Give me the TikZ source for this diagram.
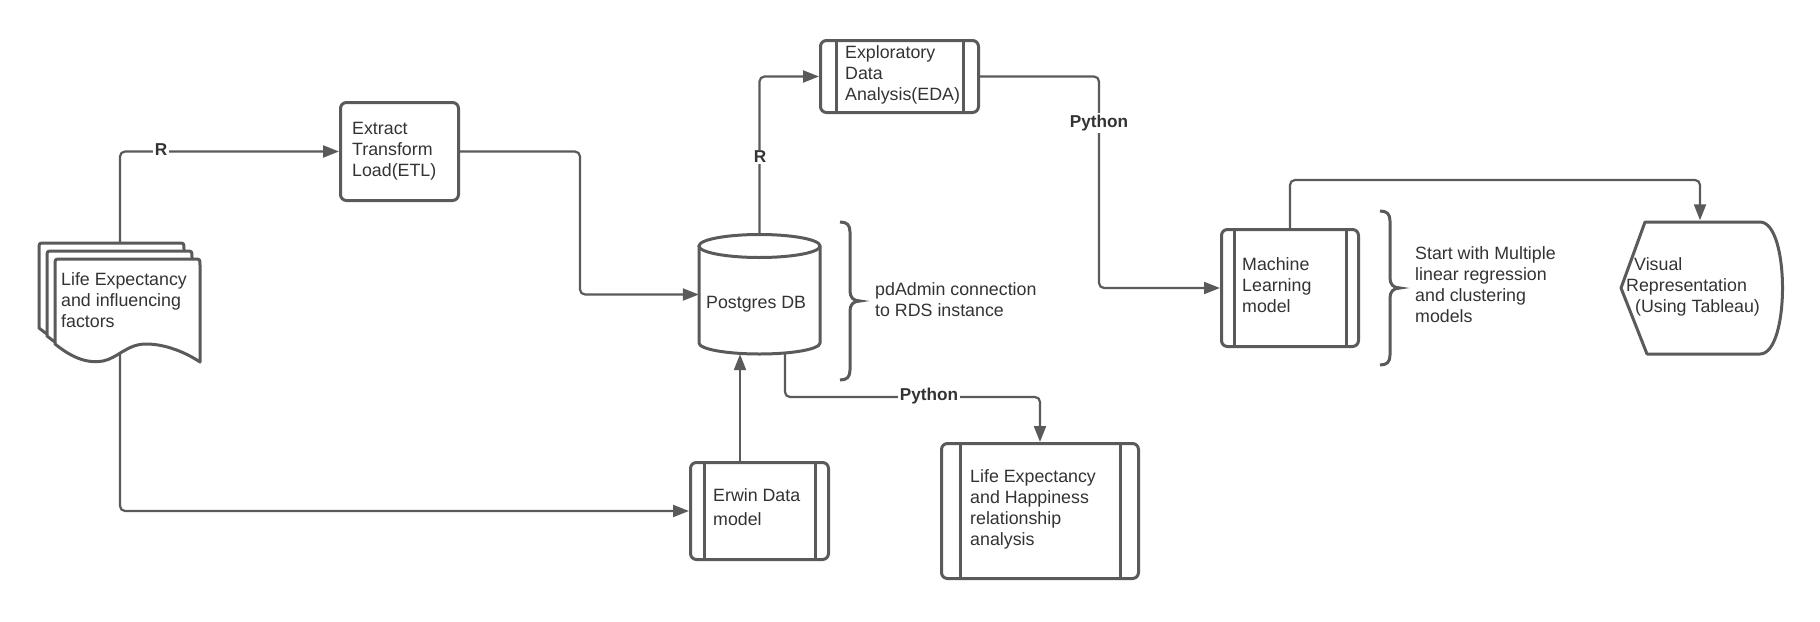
\documentclass[tikz,border=0pt]{standalone}
\usepackage{fontspec}
\setmainfont{Liberation Sans}
\usetikzlibrary{arrows.meta,calc}
\definecolor{lc}{HTML}{5A5A5A}
\definecolor{tc}{HTML}{333333}
\tikzset{
  box/.style={draw=lc, line width=3pt, rounded corners=6pt, fill=white, inner sep=0pt},
  conn/.style={draw=lc, line width=2.2pt, rounded corners=5pt, -{Triangle[length=16pt,width=12pt]}},
  txt/.style={text=tc, font=\fontsize{17.8}{21}\selectfont, align=left, inner sep=0pt, anchor=west},
  lbl/.style={text=tc, font=\fontsize{17.2}{20}\selectfont\bfseries, fill=white, inner sep=1.5pt},
  brace/.style={draw=lc, line width=3pt},
  sub/.style={draw=lc, line width=3pt},
  docsh/.style={draw=lc, line width=3pt, fill=white, line join=round},
  ghost/.style={inner sep=0pt}
}
\begin{document}
\begin{tikzpicture}[x=1pt,y=-1pt]
\useasboundingbox[fill=white] (0,0) rectangle (1820,621);

% document stack
\foreach \s in {16,8,0}{
  \begin{scope}[shift={(-\s,-\s)}]
    \draw[docsh] (55,344) -- (55,265) .. controls (55,259) .. (61,259) -- (194,259)
      .. controls (200,259) .. (200,265) -- (200,362)
      .. controls (185,352) and (165,344) .. (146,344)
      .. controls (127,344) and (118,358) .. (103,361)
      .. controls (85,364) and (70,356) .. (55,344) -- cycle;
  \end{scope}
}
\node[ghost, minimum width=161pt, minimum height=122pt] (doc) at (119.5,301) {};
\coordinate (docTop) at (120,243);
\coordinate (docBot) at (120,354);
\node[txt] (docT) at (61,300) {Life Expectancy\\and influencing\\factors};

% boxes
\node[box, minimum width=118pt, minimum height=98pt] (etl) at (399.5,151.5) {};
\node[txt] (etlT) at (352,151) {Extract\\Transform\\Load(ETL)};

\node[box, minimum width=158pt, minimum height=72pt] (eda) at (899.5,76.5) {};
\draw[sub] ([xshift=17pt]eda.north west) -- ([xshift=17pt]eda.south west);
\draw[sub] ([xshift=-17pt]eda.north east) -- ([xshift=-17pt]eda.south east);
\node[txt] (edaT) at (845,75) {Exploratory\\Data\\Analysis(EDA)};

\node[box, minimum width=138pt, minimum height=97pt] (erwin) at (759.5,511) {};
\draw[sub] ([xshift=15pt]erwin.north west) -- ([xshift=15pt]erwin.south west);
\draw[sub] ([xshift=-15pt]erwin.north east) -- ([xshift=-15pt]erwin.south east);
\node[txt] (erT) at (713,507) {Erwin Data\\[3pt]model};

\node[box, minimum width=197pt, minimum height=135pt] (leh) at (1040,511) {};
\draw[sub] ([xshift=20pt]leh.north west) -- ([xshift=20pt]leh.south west);
\draw[sub] ([xshift=-20pt]leh.north east) -- ([xshift=-20pt]leh.south east);
\node[txt] (lehT) at (970,509) {Life Expectancy\\and Happiness\\relationship\\analysis};

\node[box, minimum width=137pt, minimum height=117pt] (ml) at (1290,288) {};
\draw[sub] ([xshift=14pt]ml.north west) -- ([xshift=14pt]ml.south west);
\draw[sub] ([xshift=-14pt]ml.north east) -- ([xshift=-14pt]ml.south east);
\node[txt] (mlT) at (1242,285) {Machine\\Learning\\model};

% database cylinder
\node[ghost, minimum width=121pt, minimum height=119pt] (db) at (759.5,294.5) {};
\draw[sub, fill=white] (699,246) -- (699,343) arc[start angle=180, end angle=0, x radius=60.5, y radius=11] -- (820,246);
\draw[sub, fill=white] (759.5,246) ellipse[x radius=60.5, y radius=11.5];
\node[txt] (dbT) at (706,304) {Postgres DB};

% display shape
\node[ghost, minimum width=162pt, minimum height=135pt] (vis) at (1700,288) {};
\draw[sub, fill=white, line join=round] (1645,222) -- (1760,222) .. controls (1790,222) and (1790,354) .. (1760,354) -- (1647,354) -- (1621,288) -- cycle;
\node[txt] (visT) at (1626,287) {\hspace*{8pt}Visual\\Representation\\\hspace*{9pt}(Using Tableau)};

% braces and notes
\draw[brace] (840,222) .. controls (847,222) and (850,225) .. (850,232) -- (850,291)
  .. controls (850,297) and (853,301) .. (860,301) .. controls (853,301) and (850,305) .. (850,311)
  -- (850,370) .. controls (850,377) and (847,380) .. (840,380);
\node[txt] (pdT) at (875,300) {pdAdmin connection\\to RDS instance};

\draw[brace] (1380,211) .. controls (1387,211) and (1390,214) .. (1390,221) -- (1390,278)
  .. controls (1390,284) and (1393,288) .. (1400,288) .. controls (1393,288) and (1390,292) .. (1390,298)
  -- (1390,355) .. controls (1390,362) and (1387,365) .. (1380,365);
\node[txt] (stT) at (1415,285) {Start with Multiple\\linear regression\\and clustering\\models};

% connectors
\draw[conn] (docTop) |- (etl.west);
\draw[conn] (etl.east) -- ++(120,0) |- (db.west);
\draw[conn] (db.north) |- (eda.west);
\draw[conn] (eda.east) -- ++(119,0) |- (ml.west);
\coordinate (dbOut) at (785,353);
\draw[conn] (dbOut) -- ++(0,44) -| (leh.north);
\draw[conn] ([xshift=-19.5pt]erwin.north) -- ([xshift=-19.5pt]db.south);
\draw[conn] (docBot) |- (erwin.west);
\draw[conn] (ml.north) -- ++(0,-48) -| (vis.north);

% connector labels
\node[lbl] (r1) at (161,150) {R};
\node[lbl] (r2) at (760,157) {R};
\node[lbl] (py1) at (1099,123) {Python};
\node[lbl] (py2) at (929,396) {Python};
\end{tikzpicture}
\end{document}
